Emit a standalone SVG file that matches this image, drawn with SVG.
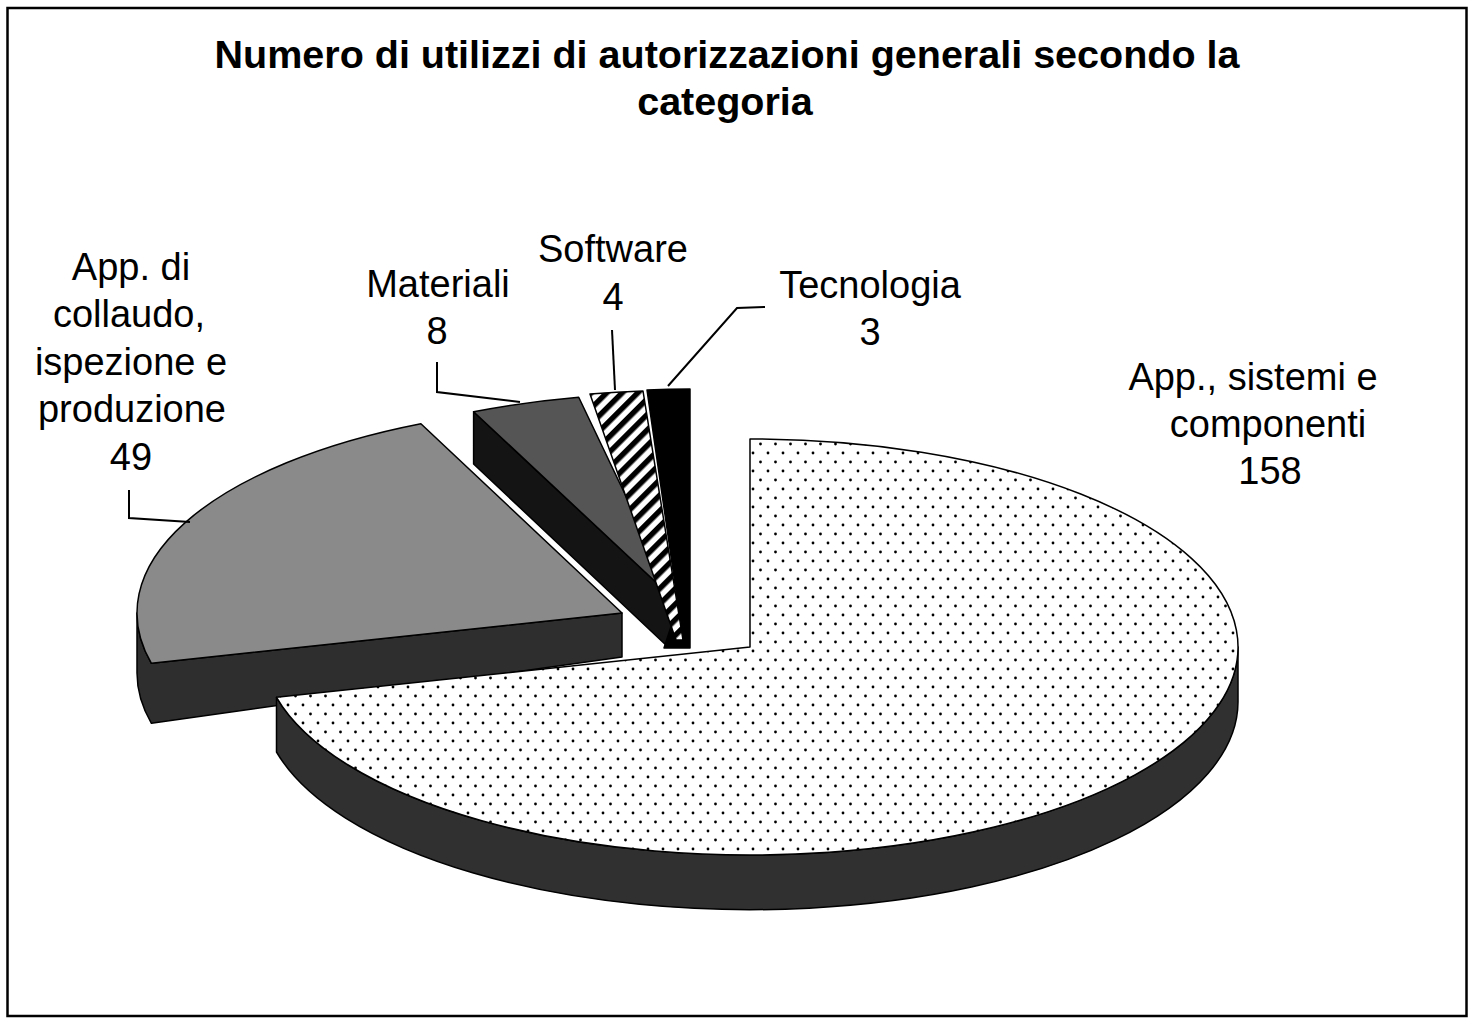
<svg xmlns="http://www.w3.org/2000/svg" width="1469" height="1019" viewBox="0 0 1469 1019">
<defs>
<pattern id="dots" width="15" height="18" patternUnits="userSpaceOnUse">
<rect width="15" height="18" fill="#fff"/>
<circle cx="3" cy="3" r="1.4" fill="#000"/>
<circle cx="10.5" cy="12" r="1.4" fill="#000"/>
</pattern>
<pattern id="hatch" width="11" height="11" patternUnits="userSpaceOnUse" patternTransform="rotate(45)">
<rect width="11" height="11" fill="#fff"/>
<rect width="5.5" height="11" fill="#000"/>
</pattern>
</defs>
<style>
.title{font-family:"Liberation Sans",Arial,sans-serif;font-weight:bold;font-size:39.5px;fill:#000;text-anchor:middle}
.lbl{font-family:"Liberation Sans",Arial,sans-serif;font-size:38px;fill:#000;text-anchor:middle}
.edge{stroke:#000;stroke-width:1.5;stroke-linejoin:round}
.lead{fill:none;stroke:#000;stroke-width:2}
</style>
<rect x="0" y="0" width="1469" height="1019" fill="#fff"/>
<rect x="7.5" y="8" width="1459" height="1008" fill="none" stroke="#000" stroke-width="2.5"/>
<g id="title">
<text class="title" x="727" y="68">Numero di utilizzi di autorizzazioni generali secondo la</text>
<text class="title" x="725" y="115">categoria</text>
</g>
<g id="slice-collaudo">
<path class="edge" fill="#2e2e2e" d="M622,613 L151.4,663.3 A485,208 0 0,1 137,613 L137,673 A485,208 0 0,0 151.4,723.3 L622,657 Z"/>
<path class="edge" fill="#8a8a8a" d="M622,613 L151.4,663.3 A485,208 0 0,1 420.9,423.7 Z"/>
</g>
<g id="slice-materiali">
<path class="edge" fill="#141414" d="M676,601 L473.6,411.7 L473.6,464 L668,647 Z"/>
<path class="edge" fill="#1e1e1e" d="M676,601 L668,647 L676,640 Z"/>
<path class="edge" fill="#555" d="M676,601 L473.6,411.7 A488,208 0 0,1 578.7,397.2 Z"/>
</g>
<g id="slice-tecnologia">
<path class="edge" fill="#000" d="M647,390 A488,208 0 0,1 690,389 L690,648 L664,648 L678,605 Z"/>
</g>
<g id="slice-software">
<path class="edge" fill="url(#hatch)" d="M590,394 A488,208 0 0,1 643,391 L683,640 L676,640 Z"/>
</g>
<g id="slice-sistemi">
<path class="edge" fill="#303030" d="M1238,647 A488,208 0 0,1 276.5,697.3 L276.5,752 A488,208 0 0,0 1238,702 Z"/>
<path class="edge" fill="url(#dots)" d="M750,647 L750,439 A488,208 0 1,1 276.5,697.3 Z"/>
</g>
<g id="connectors">
<polyline class="lead" points="129,490 129,518 190,522"/>
<polyline class="lead" points="437,362 437,392 520,402"/>
<polyline class="lead" points="612,330 615,390"/>
<polyline class="lead" points="765,307 737,308 668,386"/>
</g>
<g id="labels">
<text class="lbl" x="131" y="280">App. di</text>
<text class="lbl" x="129" y="327">collaudo,</text>
<text class="lbl" x="131" y="375">ispezione e</text>
<text class="lbl" x="132" y="422">produzione</text>
<text class="lbl" x="131" y="470">49</text>
<text class="lbl" x="438" y="297">Materiali</text>
<text class="lbl" x="437" y="344">8</text>
<text class="lbl" x="613" y="262">Software</text>
<text class="lbl" x="613" y="310">4</text>
<text class="lbl" x="870" y="298">Tecnologia</text>
<text class="lbl" x="870" y="345">3</text>
<text class="lbl" x="1253" y="390">App., sistemi e</text>
<text class="lbl" x="1268" y="437">componenti</text>
<text class="lbl" x="1270" y="484">158</text>
</g>
</svg>
